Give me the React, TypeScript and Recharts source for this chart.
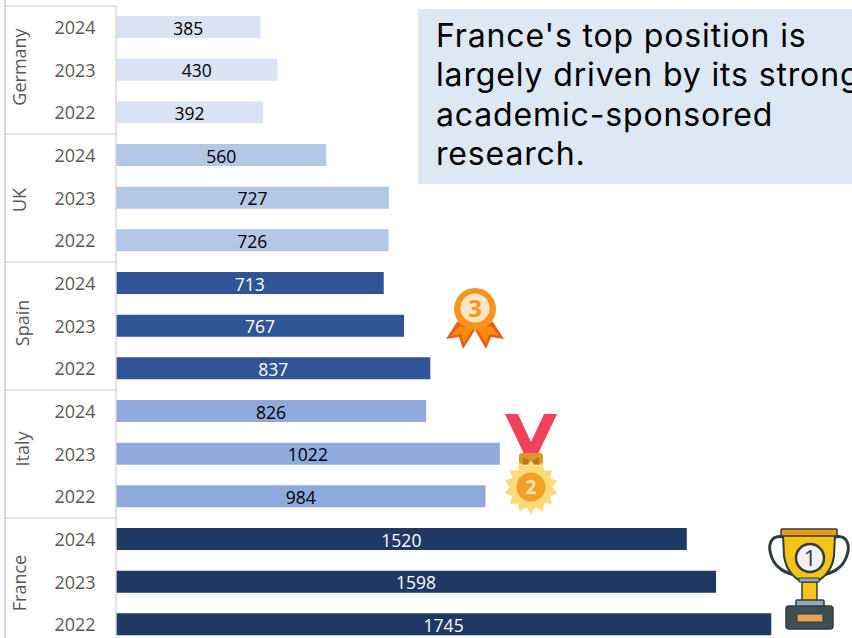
import { Bar, BarChart, Cell, LabelList, XAxis, YAxis } from 'recharts';

const countries = ['Germany', 'UK', 'Spain', 'Italy', 'France'];
const years = ['2024', '2023', '2022'];
const germany = [385, 430, 392];
const uk = [560, 727, 726];
const spain = [713, 767, 837];
const italy = [826, 1022, 984];
const france = [1520, 1598, 1745];
const noteLines = ["France's top position is", 'largely driven by its strong', 'academic-sponsored', 'research.'];

const barColors: Record<string, string> = {
  Germany: '#dae3f3',
  UK: '#b4c7e7',
  Spain: '#2f5597',
  Italy: '#8faadc',
  France: '#1f3864',
};
const whiteLabels = ['Spain', 'France'];
const countryBaseline: Record<string, number> = { Germany: 26, UK: 26, Spain: 29, Italy: 29, France: 26 };
const countryShift: Record<string, number> = { Germany: -3, UK: 2, Spain: -3, Italy: -5, France: 1 };

const seriesByCountry = [germany, uk, spain, italy, france];
const rows = countries.flatMap((country, c) =>
  years.map((year, y) => ({ key: `${country}|${year}`, country, year, value: seriesByCountry[c][y] })),
);

const FONT = '"Open Sans", sans-serif';
const ROW = 42.64;
const GRID = '#d9d9d9';

function RowTick({ y, payload }: any) {
  const [country, year] = String(payload.value).split('|');
  const pos = years.indexOf(year);
  return (
    <g>
      {pos === 0 && <line x1={5} x2={116} y1={y - ROW / 2} y2={y - ROW / 2} stroke={GRID} strokeWidth={1.5} />}
      <text x={75} y={y + 6.5} textAnchor="middle" fontFamily={FONT} fontSize={18} fill="#595959">
        {year}
      </text>
      {pos === 1 && (
        <text
          transform={`translate(${countryBaseline[country]},${y + countryShift[country]}) rotate(-90)`}
          textAnchor="middle"
          fontFamily={FONT}
          fontSize={18}
          fill="#595959"
        >
          {country}
        </text>
      )}
    </g>
  );
}

function ValueLabel({ x, y, width, height, value, index }: any) {
  const dark = whiteLabels.includes(rows[index].country);
  return (
    <text
      x={x + width / 2}
      y={y + height / 2 + 7.5}
      textAnchor="middle"
      fontFamily={FONT}
      fontSize={17.5}
      fill={dark ? '#ffffff' : '#000000'}
    >
      {value}
    </text>
  );
}

function starPoints(cx: number, cy: number, outer: number, inner: number, n: number) {
  return Array.from({ length: n * 2 }, (_, i) => {
    const r = i % 2 ? inner : outer;
    const a = (Math.PI * i) / n;
    return `${cx + r * Math.sin(a)},${cy - r * Math.cos(a)}`;
  }).join(' ');
}

function Medals() {
  return (
    <svg width={852} height={638} style={{ position: 'absolute', left: 0, top: 0 }}>
      {/* bronze rosette */}
      <polygon points="457,322 446,339 459,337 463,349 475,330 475,322" fill="#e65c1a" />
      <polygon points="493,322 504,339 491,337 486,349 475,330 475,322" fill="#e65c1a" />
      <polygon points="459,326 451,336 461,334 464,343 473,329" fill="#f98a0c" />
      <polygon points="491,326 499,336 489,334 486,343 477,329" fill="#f98a0c" />
      <circle cx={475} cy={309} r={21} fill="#f7941d" />
      <circle cx={475} cy={308} r={14.5} fill="#fde8c4" />
      <text x={475} y={317} textAnchor="middle" fontFamily={FONT} fontWeight={700} fontSize={24} fill="#f7941d">
        3
      </text>

      {/* silver medal */}
      <polygon points="505,414 518,414 531,442 544,414 557,414 536,458 526,458" fill="#f2425b" />
      <rect x={519} y={453} width={24} height={12} rx={3} fill="#e0952a" />
      <polygon points="523,457 531,461 539,457 539,464 523,464" fill="#b97a1e" />
      <polygon points={starPoints(531, 487, 27, 21, 14)} fill="#fbdc78" />
      <circle cx={531} cy={487} r={14.5} fill="#f2a126" />
      <text x={531} y={494} textAnchor="middle" fontFamily={FONT} fontWeight={700} fontSize={19} fill="#fde9b0">
        2
      </text>

      {/* trophy */}
      <path d="M784,537 C770,534 767,546 772,558 C776,568 786,574 797,575" fill="none" stroke="#2f3b40" strokeWidth={3} />
      <path d="M834,537 C848,534 851,546 846,558 C842,568 832,574 821,575" fill="none" stroke="#2f3b40" strokeWidth={3} />
      <rect x={802} y={582} width={15} height={20} fill="#f6c414" stroke="#2f3b40" strokeWidth={1.5} />
      <path d="M783,535 L835,535 L834,556 C832,570 824,578 817,581 L801,581 C794,578 786,570 784,556 Z" fill="#f6c414" stroke="#2f3b40" strokeWidth={2} />
      <rect x={781} y={529} width={56} height={7} rx={1} fill="#f09a1a" stroke="#2f3b40" strokeWidth={1.5} />
      <rect x={799} y={578} width={20} height={4} fill="#8fa8bd" stroke="#2f3b40" strokeWidth={1} />
      <circle cx={810} cy={558} r={14} fill="#f1f1f4" stroke="#2f3b40" strokeWidth={2.5} />
      <text x={810} y={566} textAnchor="middle" fontFamily={FONT} fontSize={22} fill="#2f3b40">
        1
      </text>
      <rect x={796} y={600} width={28} height={7} rx={1} fill="#8fa8bd" stroke="#2f3b40" strokeWidth={1.5} />
      <rect x={786} y={606} width={47} height={23} rx={3} fill="#3d5150" stroke="#2f3b40" strokeWidth={1.5} />
      <rect x={797} y={614} width={26} height={8} fill="#e8a15c" stroke="#2f3b40" strokeWidth={1} />
    </svg>
  );
}

export default function App() {
  return (
    <div style={{ position: 'absolute', left: 0, top: 0, width: 852, height: 638, overflow: 'hidden', background: '#fff' }}>
      <BarChart
        width={852}
        height={646}
        data={rows}
        layout="vertical"
        margin={{ top: 6, right: 0, bottom: 0, left: 0 }}
        barCategoryGap={0}
      >
        <XAxis type="number" hide domain={[0, 1960]} />
        <YAxis
          type="category"
          dataKey="key"
          width={116}
          interval={0}
          axisLine={{ stroke: GRID, strokeWidth: 1.5 }}
          tickLine={false}
          tick={<RowTick />}
        />
        <Bar dataKey="value" barSize={22} isAnimationActive={false}>
          {rows.map((row) => (
            <Cell key={row.key} fill={barColors[row.country]} />
          ))}
          <LabelList dataKey="value" content={<ValueLabel />} />
        </Bar>
      </BarChart>

      {/* left edge of the axis table */}
      <div style={{ position: 'absolute', left: 4, top: 0, width: 2, height: 638, background: GRID }} />

      <div
        style={{
          position: 'absolute',
          left: 418,
          top: 9,
          width: 434,
          height: 175,
          background: '#dde8f5',
          overflow: 'hidden',
          fontFamily: 'Inter, sans-serif',
          fontSize: 32,
          letterSpacing: '0.85px',
          lineHeight: '39.4px',
          color: '#000',
          whiteSpace: 'nowrap',
          paddingLeft: 18,
          paddingTop: 7,
          boxSizing: 'border-box',
        }}
      >
        {noteLines.map((line) => (
          <div key={line}>{line}</div>
        ))}
      </div>

      <Medals />
    </div>
  );
}
